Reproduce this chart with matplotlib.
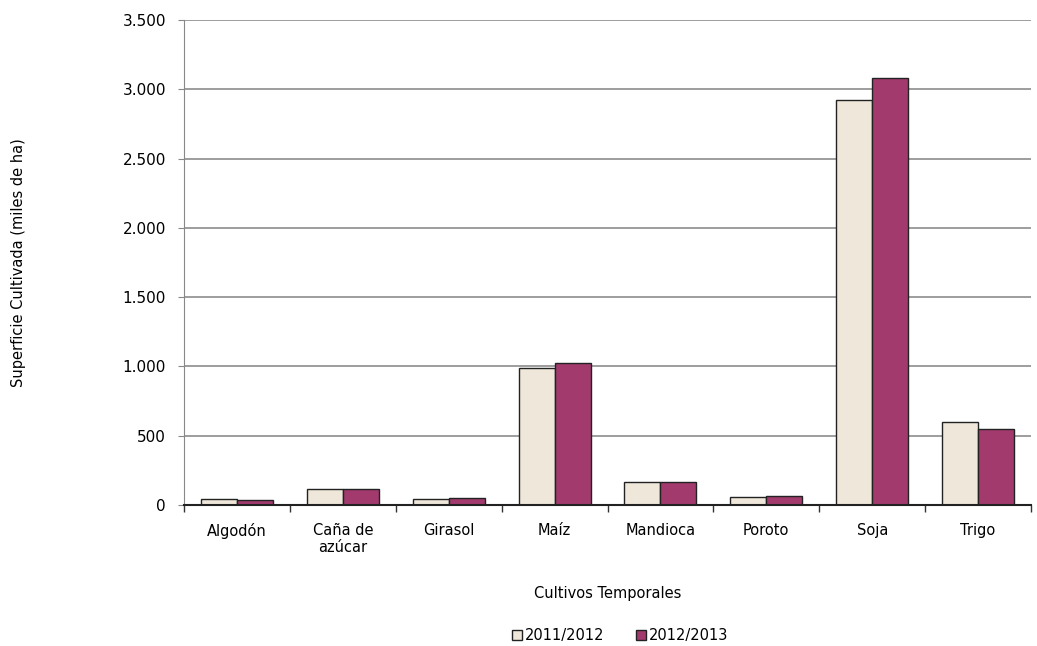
import numpy as np
from matplotlib import pyplot as plt
from matplotlib.ticker import FuncFormatter, FixedLocator

# datos (miles de ha)
cultivos = ['Algodón', 'Caña de\nazúcar', 'Girasol', 'Maíz', 'Mandioca', 'Poroto', 'Soja', 'Trigo']
campana_2011 = [45, 115, 45, 990, 165, 58, 2920, 598]
campana_2012 = [38, 113, 50, 1025, 168, 65, 3082, 550]
series = ['2011/2012', '2012/2013']

plt.rcParams['font.family'] = ['DejaVu Sans']

fig = plt.figure(figsize=(10.37, 6.46), dpi=100)
ax = fig.add_axes([184 / 1037, 141 / 646, 847 / 1037, 485 / 646])

x = np.arange(len(cultivos))
bar_w = 0.34
ax.bar(x - bar_w / 2, campana_2011, bar_w, color='#EEE7DA', edgecolor='#222222',
       linewidth=1.0, label=series[0], zorder=3)
ax.bar(x + bar_w / 2, campana_2012, bar_w, color='#A23A6E', edgecolor='#222222',
       linewidth=1.0, label=series[1], zorder=3)

ax.set_xlim(-0.5, len(cultivos) - 0.5)
ax.set_ylim(0, 3500)
ax.set_yticks(np.arange(0, 3501, 500))
ax.yaxis.set_major_formatter(FuncFormatter(lambda v, p: f'{int(v):,}'.replace(',', '.')))
ax.yaxis.grid(True, color='#8c8c8c', linewidth=1.2, zorder=0)

ax.set_xticks(x)
ax.set_xticklabels(cultivos, fontsize=10.5)
ax.tick_params(axis='x', length=0, pad=13)
ax.xaxis.set_minor_locator(FixedLocator(np.arange(-0.5, len(cultivos), 1.0)))
ax.tick_params(axis='x', which='minor', length=5, width=1, color='#333333', direction='out')
ax.tick_params(axis='y', labelsize=11, length=4, color='#888888', pad=9)

for s in ['top', 'right']:
    ax.spines[s].set_visible(False)
ax.spines['left'].set_color('#888888')
ax.spines['bottom'].set_color('#222222')
ax.spines['bottom'].set_linewidth(1.5)
ax.spines['bottom'].set_zorder(4)

ax.set_xlabel('Cultivos Temporales', fontsize=10.5, labelpad=22)
ax.set_ylabel('Superficie Cultivada (miles de ha)', fontsize=10.5)
ax.yaxis.set_label_coords(-158 / 847, 0.5)

fig.legend(loc='center', bbox_to_anchor=(0.598, 0.016), ncol=2, frameon=False,
           fontsize=10.5, handlelength=0.7, handleheight=0.7, handletextpad=0.2,
           columnspacing=2.2)

fig.savefig('out.png', dpi=100)
